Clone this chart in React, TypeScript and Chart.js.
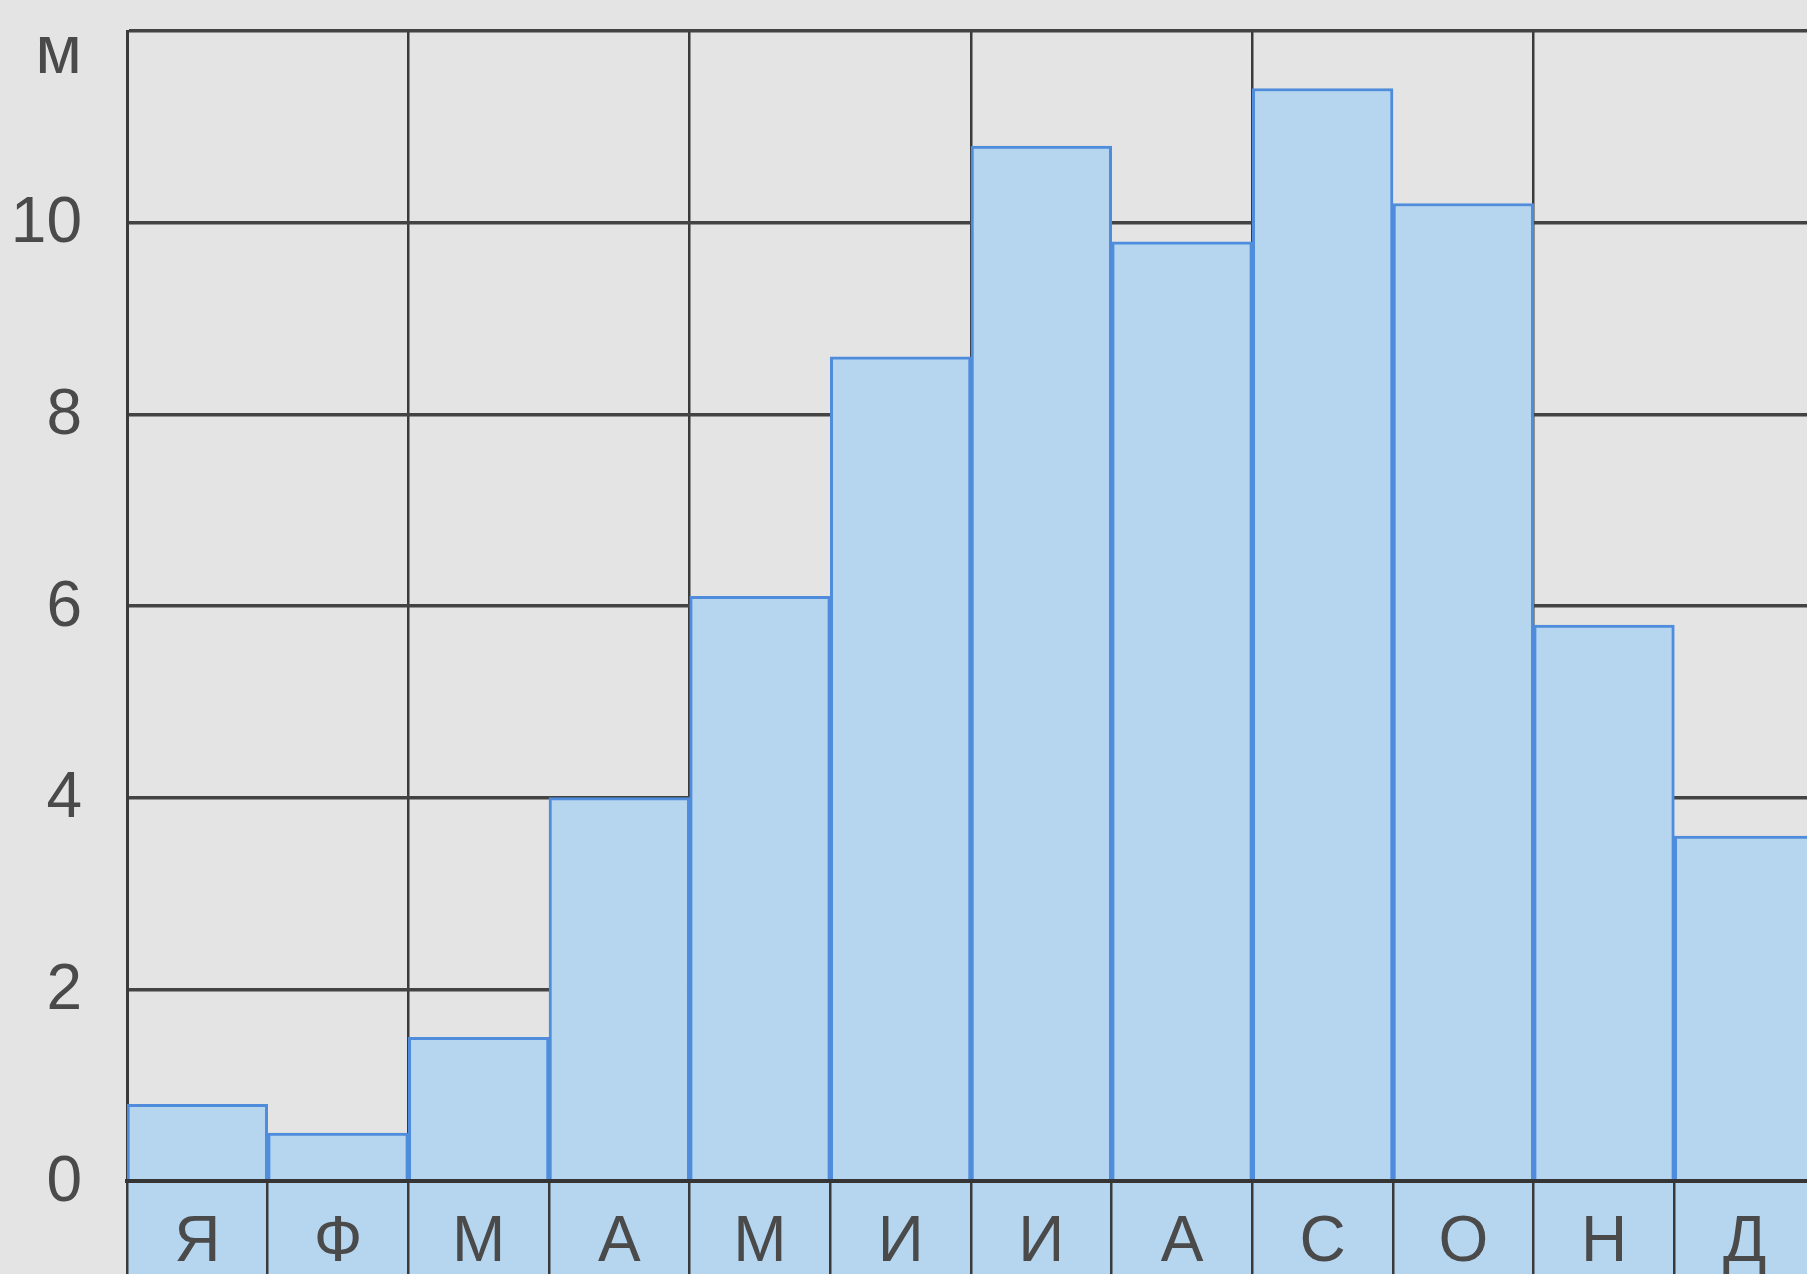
import React, { useEffect, useRef } from "react";
import { Chart, registerables } from "chart.js";

Chart.register(...registerables);

const months: string[] = ["Я", "Ф", "М", "А", "М", "И", "И", "А", "С", "О", "Н", "Д"];
const levels: number[] = [0.8, 0.5, 1.5, 4.0, 6.1, 8.6, 10.8, 9.8, 11.4, 10.2, 5.8, 3.6];
const yTicks: number[] = [0, 2, 4, 6, 8, 10, 12];
const unitLabel = "м";

const PAPER = "#e4e4e4";
const BAND = "#b6d5ef";
const BAR_FILL = "#b6d5ef";
const BAR_EDGE = "#4f8ddc";
const INK = "#434343";
const TEXT = "#4a4a4a";
const FAMILY = "'Liberation Sans', Arial, sans-serif";

const paperPlugin = {
  id: "paper",
  beforeDraw(chart: any) {
    const { ctx, chartArea, width, height } = chart;
    ctx.save();
    ctx.fillStyle = PAPER;
    ctx.fillRect(0, 0, width, height);
    ctx.fillStyle = BAND;
    ctx.fillRect(chartArea.left, chartArea.bottom, width - chartArea.left, height - chartArea.bottom);
    ctx.restore();
  },
  afterDatasetsDraw(chart: any) {
    const { ctx, chartArea, scales } = chart;
    const y0 = scales.y.getPixelForValue(0);
    ctx.save();
    ctx.strokeStyle = "#353535";
    ctx.lineWidth = 4;
    ctx.beginPath();
    ctx.moveTo(chartArea.left, y0);
    ctx.lineTo(chart.width, y0);
    ctx.stroke();
    ctx.restore();
  },
};

export default function App() {
  const ref = useRef<HTMLCanvasElement | null>(null);

  useEffect(() => {
    if (!ref.current) return;
    const chart = new Chart(ref.current, {
      type: "bar",
      data: {
        labels: months,
        datasets: [
          {
            data: levels,
            backgroundColor: BAR_FILL,
            borderColor: BAR_EDGE,
            borderWidth: 3,
            borderSkipped: "bottom",
            barPercentage: 1,
            categoryPercentage: 1,
          },
        ],
      },
      plugins: [paperPlugin],
      options: {
        responsive: false,
        animation: false,
        devicePixelRatio: 1,
        layout: { padding: { top: 31, right: 15, bottom: 0, left: 0 } },
        plugins: {
          legend: { display: false },
          tooltip: { enabled: false },
          title: { display: false },
        },
        scales: {
          x: {
            offset: true,
            grid: {
              offset: true,
              drawOnChartArea: true,
              drawTicks: true,
              tickLength: 100,
              color: (c: any) =>
                c.index === undefined || c.index % 2 === 0 ? "#3a3a3a" : "rgba(0,0,0,0)",
              lineWidth: 2.5,
              tickColor: "#3a3a3a",
              tickWidth: 2.5,
            },
            border: { display: true, color: "#353535", width: 4 },
            ticks: {
              autoSkip: false,
              maxRotation: 0,
              minRotation: 0,
              padding: -76,
              color: TEXT,
              font: { family: FAMILY, size: 64 },
            },
            afterFit: (s: any) => {
              s.height = 93;
              s.paddingLeft = 0;
              s.paddingRight = 0;
            },
          },
          y: {
            min: 0,
            max: 12,
            afterBuildTicks: (s: any) => {
              s.ticks = yTicks.map((v) => ({ value: v }));
            },
            grid: {
              drawTicks: false,
              color: INK,
              lineWidth: 3.5,
            },
            border: { display: true, color: "#3a3a3a", width: 3 },
            ticks: {
              padding: 45,
              color: TEXT,
              labelOffset: 2,
              callback: (v: any) => (Number(v) === 12 ? ["", unitLabel] : String(v)),
              font: (c: any) =>
                c.tick && c.tick.value === 12
                  ? { family: FAMILY, size: 68, lineHeight: 0.62 }
                  : { family: FAMILY, size: 64 },
            },
            afterFit: (s: any) => {
              s.width = 127;
              s.paddingTop = 0;
              s.paddingBottom = 0;
            },
          },
        },
      } as any,
    });
    return () => chart.destroy();
  }, []);

  return (
    <div
      style={{
        position: "fixed",
        left: 0,
        top: 0,
        width: 1807,
        height: 1274,
        overflow: "hidden",
        background: PAPER,
      }}
    >
      <canvas ref={ref} width={1830} height={1274} style={{ display: "block" }} />
    </div>
  );
}
